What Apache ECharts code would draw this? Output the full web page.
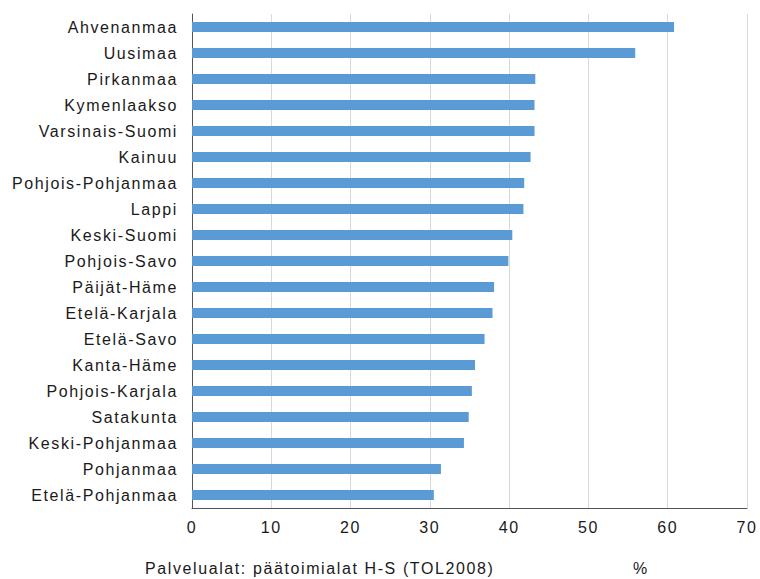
<!DOCTYPE html>
<html><head><meta charset="utf-8">
<script src="https://cdn.jsdelivr.net/npm/echarts@6/dist/echarts.min.js"></script>
<style>html,body{margin:0;padding:0;background:#fff}#c{width:760px;height:579px}#c text{letter-spacing:1.6px}</style>
</head><body><div id="c"></div>
<script>
const categories = ["Ahvenanmaa","Uusimaa","Pirkanmaa","Kymenlaakso","Varsinais-Suomi","Kainuu","Pohjois-Pohjanmaa","Lappi","Keski-Suomi","Pohjois-Savo","Päijät-Häme","Etelä-Karjala","Etelä-Savo","Kanta-Häme","Pohjois-Karjala","Satakunta","Keski-Pohjanmaa","Pohjanmaa","Etelä-Pohjanmaa"];
const values = [60.8,55.9,43.3,43.2,43.2,42.7,41.9,41.8,40.4,39.9,38.1,37.9,36.9,35.7,35.3,34.9,34.3,31.4,30.5];
const xTicks = [0,10,20,30,40,50,60,70];
const footLeft = "Palvelualat: päätoimialat H-S (TOL2008)";
const footRight = "%";

const chart = echarts.init(document.getElementById('c'), null, {renderer:'svg'});
const font = "Liberation Sans, Arial, sans-serif";
chart.setOption({
  animation:false,
  grid:{left:192,right:13,top:14,bottom:71,containLabel:false},
  xAxis:{type:'value',min:xTicks[0],max:xTicks[xTicks.length-1],interval:10,
    axisLine:{show:true,lineStyle:{color:'#555',width:1}},
    axisTick:{show:false},
    axisLabel:{color:'#1a1a1a',fontSize:16,fontFamily:font,margin:11},
    splitLine:{show:true,lineStyle:{color:'#d9d9d9',width:1}}},
  yAxis:{type:'category',data:categories,inverse:true,
    axisLine:{show:true,lineStyle:{color:'#555',width:1}},
    axisTick:{show:false},
    axisLabel:{color:'#1a1a1a',fontSize:16,fontFamily:font,margin:14,padding:[0,0,3,0]}},
  series:[{type:'bar',data:values,barWidth:10,itemStyle:{color:'#5b9bd5'},silent:true}],
  graphic:[
    {type:'text',left:145,top:560,style:{text:footLeft,fill:'#1a1a1a',font:'16px '+font}},
    {type:'text',left:633,top:560,style:{text:footRight,fill:'#1a1a1a',font:'16px '+font}}
  ]
});
</script></body></html>
